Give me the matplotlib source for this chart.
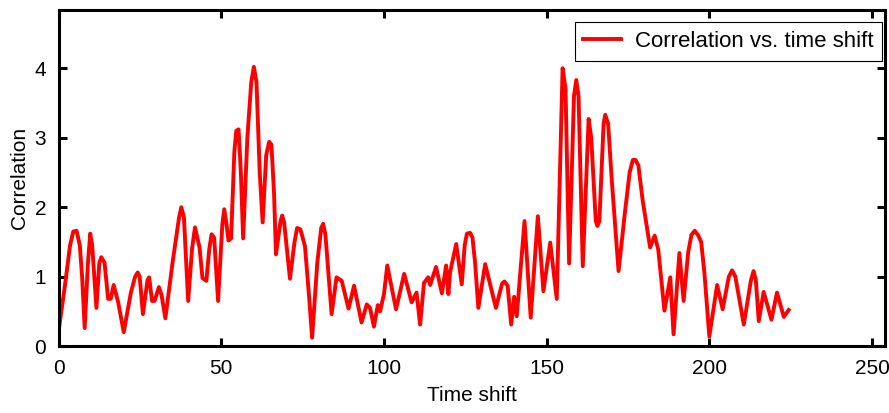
import matplotlib.pyplot as plt

time_shift = [0, 2, 3.5, 4.5, 5.5, 6.5, 7.2, 8, 9, 9.7, 10.3, 11.6, 12.5, 13.1, 14.1,
              15.2, 16, 16.9, 18.3, 20, 22.2, 23.5, 24.3, 24.9, 25.9, 27.3, 27.8, 28.7,
              29.5, 30.8, 31.6, 32.8, 35, 37, 37.7, 38.5, 39.8, 41, 41.9, 43.3, 44.2,
              45.4, 46.3, 47, 47.8, 49, 50.3, 50.9, 51.6, 52.2, 53, 54, 54.6, 55.3, 56,
              56.7, 58, 59.2, 60, 60.8, 61.8, 62.7, 63.8, 64.7, 65.4, 66.2, 66.8, 68.2,
              68.7, 69.3, 71.1, 72.5, 73.3, 74.3, 75.7, 77, 77.9, 79.5, 80.7, 81.3, 82,
              83.9, 85.4, 87, 89.1, 90.8, 93.1, 94.7, 95.7, 96.9, 98.1, 98.8, 100, 101,
              103.7, 106.2, 108.5, 110, 111.1, 112.3, 113.6, 114.2, 116, 117.8, 119.1,
              119.8, 120.3, 122.2, 123.9, 124.8, 125.5, 126.5, 127.2, 128, 129, 131.1,
              134.4, 136.3, 137, 138, 139.1, 140, 140.8, 143.2, 145.1, 147.3, 149,
              151.1, 153.1, 154.9, 155.8, 156.9, 158.4, 159.1, 159.8, 161.1, 162.9,
              163.7, 165.1, 165.6, 166.2, 167.5, 168, 168.9, 170, 172.1, 174, 175.5,
              176.5, 177.3, 178.2, 179.5, 181.8, 183.2, 184.3, 186.2, 188, 189, 190.8,
              192.1, 193.5, 194.5, 195.5, 196.5, 197.5, 198.5, 200, 202.4, 204.1, 206,
              207, 208, 210.6, 212.8, 213.6, 214.3, 215.2, 216.7, 219.1, 220.8,
              222.9, 224.4]
correlation = [0.22, 0.9, 1.45, 1.65, 1.66, 1.45, 1.0, 0.26, 1.2, 1.62, 1.45, 0.55, 1.2, 1.28, 1.2,
               0.68, 0.68, 0.88, 0.63, 0.2, 0.77, 1.0, 1.06, 1.0, 0.46, 0.95, 0.99, 0.65,
               0.65, 0.85, 0.74, 0.40, 1.2, 1.85, 2.0, 1.85, 0.65, 1.4, 1.71, 1.42, 0.98,
               0.94, 1.4, 1.61, 1.56, 0.65, 1.75, 1.97, 1.75, 1.52, 1.55, 2.8, 3.1, 3.12, 2.5,
               1.55, 3.0, 3.8, 4.02, 3.8, 2.5, 1.78, 2.75, 2.94, 2.9, 2.2, 1.32, 1.8,
               1.88, 1.78, 0.97, 1.5, 1.7, 1.68, 1.44, 0.7, 0.12, 1.2, 1.7, 1.76, 1.6,
               0.46, 0.99, 0.94, 0.54, 0.87, 0.34, 0.60, 0.55, 0.28, 0.59, 0.5, 0.75, 1.16,
               0.53, 1.04, 0.63, 0.77, 0.31, 0.91, 0.99, 0.88, 1.14, 0.76, 1.16,
               0.75, 1.06, 1.47, 0.89, 1.45, 1.62, 1.63, 1.56, 1.2, 0.55, 1.18,
               0.55, 0.9, 0.93, 0.87, 0.31, 0.71, 0.43, 1.8, 0.41, 1.87, 0.79,
               1.49, 0.68, 4.0, 3.7, 1.19, 3.6, 3.83, 3.6, 1.15, 3.27,
               3.0, 1.8, 1.73, 1.8, 3.2, 3.33, 3.2, 2.4, 1.08, 1.9, 2.5,
               2.68, 2.68, 2.6, 2.1, 1.42, 1.59, 1.39, 0.51, 0.99, 0.17, 1.34,
               0.65, 1.35, 1.6, 1.66, 1.6, 1.5, 1.05, 0.14, 0.88, 0.53, 1.0,
               1.09, 1.0, 0.31, 0.95, 1.08, 0.95, 0.36, 0.78, 0.38, 0.77,
               0.42, 0.52]

plt.rcParams['font.family'] = ['Liberation Sans', 'DejaVu Sans']

fig = plt.figure(figsize=(8.89, 4.13), dpi=100)
ax = fig.add_axes([0.066, 0.162, 0.9295, 0.814])

ax.plot(time_shift, correlation, color='red', linewidth=2.8,
        solid_joinstyle='round', label='Correlation vs. time shift')

ax.set_xlim(0, 254)
ax.set_ylim(0, 4.84)
ax.set_xticks([0, 50, 100, 150, 200, 250])
ax.set_yticks([0, 1, 2, 3, 4])
ax.tick_params(direction='in', length=6, width=2.2, labelsize=15,
               top=True, right=True)
ax.tick_params(axis='x', pad=9)
ax.tick_params(axis='y', pad=9)
for s in ax.spines.values():
    s.set_linewidth(2.2)

ax.set_xlabel('Time shift', fontsize=15, labelpad=6)
ax.set_ylabel('Correlation', fontsize=15, labelpad=4)

leg = ax.legend(loc='upper right', bbox_to_anchor=(0.9964, 0.964), fontsize=16,
                fancybox=False, framealpha=1, borderaxespad=0,
                handlelength=1.7, handletextpad=0.6, borderpad=0.4)
leg.get_frame().set_edgecolor('black')
leg.get_frame().set_linewidth(0.8)

fig.savefig('out.png', dpi=100)
